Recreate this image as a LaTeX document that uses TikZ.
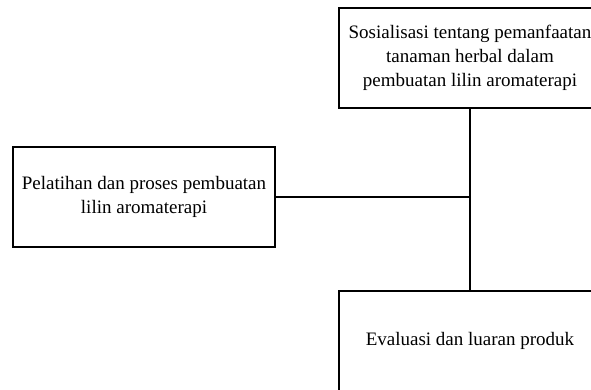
\documentclass[tikz,border=0pt]{standalone}
\usepackage{fontspec}
\setmainfont{Liberation Serif}
\usepackage{tikz}
\usetikzlibrary{positioning}
\tikzstyle{stagebox} = [rectangle, draw=black, line width=1.3pt, fill=white, minimum width=262pt, minimum height=100pt, inner sep=2pt, align=center, font=\fontsize{19}{24}\selectfont]
\tikzstyle{line} = [line width=1.3pt]

\begin{document}
\begin{tikzpicture}[x=1pt, y=-1pt]
      \useasboundingbox (0,0) rectangle (591,389);
      \clip (0,0) rectangle (591,389);

      \node (sosialisasi) [stagebox] at (470,58) {Sosialisasi tentang pemanfaatan\\tanaman herbal dalam\\pembuatan lilin aromaterapi};
      \node (pelatihan) [stagebox] at (144,197) {Pelatihan dan proses pembuatan\\lilin aromaterapi};
      \node (evaluasi) [stagebox] at (470,341) {Evaluasi dan luaran produk};
      \coordinate (c) at (pelatihan.east -| sosialisasi.south);
      \draw [line] (sosialisasi) -- (evaluasi);
      \draw [line] (pelatihan) -- (c);
    \end{tikzpicture}
\end{document}
